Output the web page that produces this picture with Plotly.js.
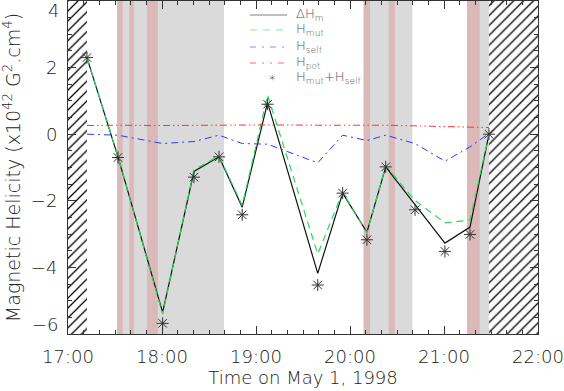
<!DOCTYPE html>
<html>
<head>
<meta charset="utf-8">
<script src="https://cdn.plot.ly/plotly-3.0.1.min.js"></script>
<style>
  html, body { margin: 0; padding: 0; background: #fff; }
  #plot { width: 564px; height: 391px; }
</style>
</head>
<body>
<div id="plot"></div>
<script>
// times of the measurements (1 May 1998)
const times = ['17:12:06', '17:31:54', '18:00:24', '18:20:24', '18:36:24', '18:51:12', '19:07:24',
               '19:39:24', '19:55:18', '20:10:48', '20:22:48', '20:41:30', '21:00:36', '21:16:36', '21:28:42'];

// Delta H_m  (null where not computed)
const dHm   = [2.30, -0.68, -5.35, -1.12, -0.68, -2.19, 0.95, -4.18, -1.77, -2.94, -0.98, null, -3.27, -2.79, 0.00];
const hMut  = [2.30, -0.67, -5.40, -1.07, -0.65, -2.14, 1.17, -3.60, -1.74, -2.96, -0.95, -1.99, -2.66, -2.58, 0.00];
const hSelf = [0.00, -0.03, -0.28, -0.22, -0.03, -0.28, -0.30, -0.86, -0.03, -0.19, -0.03, -0.28, -0.81, -0.38, 0.02];
const hPot  = [0.26, 0.27, 0.26, 0.27, 0.28, 0.27, 0.28, 0.27, 0.28, 0.27, 0.27, 0.25, 0.24, 0.22, 0.20];
const hSum  = [2.30, -0.70, -5.68, -1.29, -0.68, -2.42, 0.90, -4.53, -1.77, -3.17, -0.98, -2.27, -3.52, -3.01, 0.00];

// shaded intervals
const grayStart = ['17:31:18', '20:08:42', '21:14:42'];
const grayEnd   = ['18:39:36', '20:39:48', '21:28:42'];
const pinkStart = ['17:31:18', '17:39:06', '17:50:24', '20:08:42', '20:24:42', '21:14:42'];
const pinkEnd   = ['17:34:54', '17:42:06', '17:57:24', '20:12:48', '20:28:42', '21:22:48'];
// no-data (hatched) intervals
const hatchStart = ['17:00:00', '21:28:42'];
const hatchEnd   = ['17:12:06', '22:00:00'];

const yTicks = [-6, -4, -2, 0, 2, 4];
const yTickText = ['−6', '−4', '−2', '0', '2', '4'];

// legend entries
const legendNames = ['ΔH<sub>m</sub>', 'H<sub>mut</sub>', 'H<sub>self</sub>', 'H<sub>pot</sub>', 'H<sub>mut</sub>+H<sub>self</sub>'];
const legendColors = ['#aaaaaa', '#aaf5bb', '#aab0ff', '#ff9a9a', '#000'];
const legendDash = ['solid', '7px,6px', '6px,6px,2px,6px', '6px,6px,2px,6px,2px,6px', null];

const yRange = [yTicks[0], yTicks[yTicks.length - 1]];
const day = '1998-05-01 ';
const t = s => day + s;
const tx = times.map(t);

const txtColor = '#222';
const font = (size, color) => ({ family: 'DejaVu Sans, sans-serif', size: size, color: color || txtColor, weight: 200 });

const shapes = [];
grayStart.forEach((s, i) => shapes.push({
    type: 'rect', xref: 'x', yref: 'paper', x0: t(s), x1: t(grayEnd[i]), y0: 0, y1: 1,
    fillcolor: '#dadada', line: { width: 0 }, layer: 'below'
}));
pinkStart.forEach((s, i) => shapes.push({
    type: 'rect', xref: 'x', yref: 'paper', x0: t(s), x1: t(pinkEnd[i]), y0: 0, y1: 1,
    fillcolor: '#dcb9b9', line: { width: 0 }, layer: 'below'
}));

const traces = [];
hatchStart.forEach((s, i) => traces.push({
    x: [t(s), t(s), t(hatchEnd[i]), t(hatchEnd[i]), t(s)],
    y: [yRange[0], yRange[1], yRange[1], yRange[0], yRange[0]],
    mode: 'lines', fill: 'toself', line: { width: 0 }, fillcolor: 'rgba(0,0,0,0)',
    fillpattern: { shape: '/', fgcolor: '#000', bgcolor: '#fff', size: 7, solidity: 0.18 },
    hoverinfo: 'skip'
}));

traces.push(
    { x: tx, y: dHm, mode: 'lines', connectgaps: true,
      line: { color: '#111', width: 1.2 } },
    { x: tx, y: hMut, mode: 'lines',
      line: { color: '#22dd55', width: 1.2, dash: '7px,5px' } },
    { x: tx, y: hSelf, mode: 'lines',
      line: { color: '#3333ff', width: 1, dash: '7px,4px,2px,4px' } },
    { x: tx, y: hPot, mode: 'lines',
      line: { color: '#ff3333', width: 1, dash: '7px,3px,1.5px,3px,1.5px,3px' } },
    { x: tx, y: hSum, mode: 'markers',
      marker: { symbol: 'asterisk-open', size: 10, color: '#333', line: { color: '#333', width: 1 } } }
);

// end labels of the y axis are kept inside the frame, as in the original
const annotations = [
    { xref: 'paper', x: 0, xanchor: 'right', xshift: -7, yref: 'y', y: yTicks[yTicks.length - 1],
      yanchor: 'top', yshift: 3, text: yTickText[yTickText.length - 1], showarrow: false, font: font(18) },
    { xref: 'paper', x: 0, xanchor: 'right', xshift: -7, yref: 'y', y: yTicks[0],
      yanchor: 'bottom', yshift: -3, text: yTickText[0], showarrow: false, font: font(18) }
];

// legend box, drawn by hand (paper coordinates)
const legX0 = 0.387, legX1 = 0.466, legTx = 0.481;
const legY = [0.958, 0.913, 0.862, 0.814, 0.769];
legendNames.forEach((name, i) => {
    if (legendDash[i]) {
        shapes.push({ type: 'line', xref: 'paper', yref: 'paper', x0: legX0, x1: legX1, y0: legY[i], y1: legY[i],
                      line: { color: legendColors[i], width: 1.5, dash: legendDash[i] } });
    } else {
        annotations.push({ xref: 'paper', yref: 'paper', x: 0.435, y: legY[i], xanchor: 'center', yanchor: 'middle',
                           yshift: -2, text: '*', showarrow: false, font: font(13, legendColors[i]) });
    }
    annotations.push({ xref: 'paper', yref: 'paper', x: legTx, y: legY[i], xanchor: 'left', yanchor: 'middle',
                       text: name, showarrow: false, font: font(13, '#555') });
});

const layout = {
    width: 564, height: 391,
    margin: { l: 68, r: 26, t: 1, b: 57 },
    paper_bgcolor: '#fff', plot_bgcolor: '#fff',
    font: font(18),
    showlegend: false,
    xaxis: {
        type: 'date', range: [t('17:00:00'), t('22:00:00')],
        dtick: 3600000, tick0: t('17:00:00'), tickformat: '%H:%M',
        ticks: 'inside', ticklen: 8, tickcolor: '#333', tickfont: font(18),
        minor: { dtick: 600000, ticks: 'inside', ticklen: 4, tickcolor: '#333' },
        showline: true, linecolor: '#333', linewidth: 1, mirror: 'allticks',
        showgrid: false, zeroline: false,
        ticklabelstandoff: 6,
        title: { text: 'Time on May 1, 1998', font: font(18), standoff: 2 }
    },
    yaxis: {
        range: yRange, tickmode: 'array', tickvals: yTicks,
        ticktext: yTickText.map((s, i) => (i === 0 || i === yTickText.length - 1) ? '' : s),
        ticks: 'inside', ticklen: 8, tickcolor: '#333', tickfont: font(18),
        minor: { dtick: 0.5, ticks: 'inside', ticklen: 4, tickcolor: '#333' },
        showline: true, linecolor: '#333', linewidth: 1, mirror: 'allticks',
        showgrid: false, zeroline: false,
        ticklabelstandoff: 6,
        title: { text: 'Magnetic Helicity (x10<sup>42</sup> G<sup>2</sup>.cm<sup>4</sup>)', font: font(19), standoff: 9 }
    },
    annotations: annotations,
    shapes: shapes
};

Plotly.newPlot('plot', traces, layout, { staticPlot: true });
</script>
</body>
</html>
